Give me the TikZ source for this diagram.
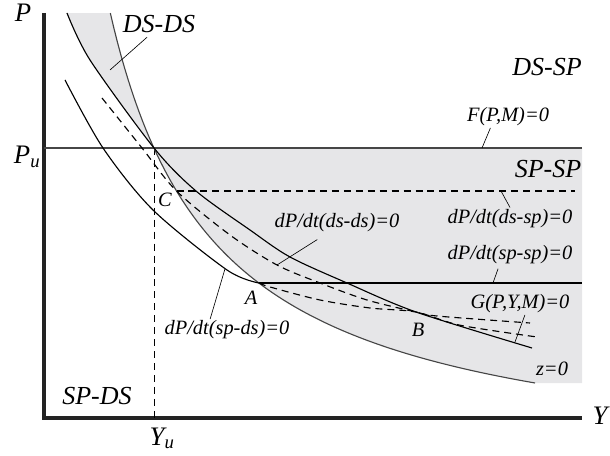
\documentclass[tikz,border=0pt]{standalone}
\usepackage{fontspec}
\setmainfont{Liberation Serif}
\begin{document}
\begin{tikzpicture}[
    eqlab/.style={font=\fontsize{14.5}{16}\selectfont\itshape, inner sep=1pt},
    regionlab/.style={font=\fontsize{18.5}{20}\selectfont\itshape, inner sep=1pt},
    axislab/.style={font=\fontsize{19}{21}\selectfont\itshape, inner sep=1pt},
    leader/.style={line width=0.45pt},
    curvel/.style={line width=0.8pt},
    dashcurve/.style={line width=0.8pt, dash pattern=on 5pt off 3.5pt}
]
    \definecolor{myshade}{RGB}{230,230,232}
    \definecolor{myaxis}{RGB}{35,35,35}
    \definecolor{myline}{RGB}{70,70,70}

    \useasboundingbox (-1.1,-0.925) rectangle (14.15,10.45);

    \pgfmathsetmacro{\Yu}{2.75}
    \pgfmathsetmacro{\Pu}{6.75}
    \pgfmathsetmacro{\Ymax}{13.45}
    \pgfmathsetmacro{\Ptop}{10.125}
    \def\zcurve{30.5/(\x+0.983)-1.425}
    \def\Gpath{plot[smooth] coordinates {(0.575,10.125) (1.15,8.95) (2.75,6.75)
        (3.8,5.675) (5.15,4.7) (6.15,4.025) (7.575,3.375) (9.3,2.65) (12.2,1.75)}}

    \coordinate (Q) at (\Yu,\Pu);
    \coordinate (A) at (5.375,3.375);
    \coordinate (B) at (9.3,2.65);
    \coordinate (C) at (3.313,5.675);

    \fill[myshade] (Q) -- (\Ymax,\Pu) -- (\Ymax,0.875) -- (12.275,0.875)
        -- plot[domain=12.275:\Yu, samples=60, variable=\x] ({\x},{\zcurve}) -- cycle;
    \begin{scope}
        \clip (0,\Pu) rectangle (\Ymax,\Ptop);
        \clip plot[domain=1.658:\Yu, samples=30, variable=\x] ({\x},{\zcurve})
            -- (0,\Pu) -- (0,\Ptop) -- cycle;
        \fill[myshade] \Gpath -- (\Ymax,1.75) -- (\Ymax,\Ptop) -- cycle;
    \end{scope}

    \draw[myaxis, line width=2.2pt] (0,\Ptop) -- (0,0) -- (\Ymax,0);
    \draw[myline, line width=1.1pt] (0,\Pu) -- (\Ymax,\Pu);
    \draw[dashcurve, line width=0.7pt] (Q) -- (\Yu,0);

    \draw[curvel, myline] plot[domain=1.658:12.275, samples=120, variable=\x] ({\x},{\zcurve});
    \draw[curvel] \Gpath;
    \draw[curvel] plot[smooth] coordinates {(0.525,8.45) (1.475,6.75) (2.725,5.2)
        (4.575,3.7) (A)};
    \draw[curvel] (A) -- (\Ymax,3.375);
    \draw[dashcurve] (C) -- (13.275,5.675);
    \draw[dashcurve] plot[smooth] coordinates {(1.45,8.0) (2.45,6.75) (C)
        (4.65,4.575) (5.825,3.825) (6.9,3.375) (8.075,2.95) (B) (9.825,2.55) (12.15,2.375)};
    \draw[dashcurve] plot[smooth] coordinates {(A) (5.65,3.275) (6.9,2.95)
        (8.15,2.75) (B) (10.4,2.32) (12.325,2.025)};

    \node[axislab] (plab) at (-0.525,10.14) {P};
    \node[axislab, anchor=base east] (pulab) at (-0.05,6.35) {P\textsubscript{u}};
    \node[axislab, anchor=base west] (yulab) at (2.6,-0.675) {Y\textsubscript{u}};
    \node[axislab] (ylab) at (13.9,0.05) {Y};

    \node[regionlab] (dsds) at (2.875,9.85) {DS-DS};
    \node[regionlab] (dssp) at (12.575,8.775) {DS-SP};
    \node[regionlab] (spsp) at (12.6,6.225) {SP-SP};
    \node[regionlab] (spds) at (1.325,0.55) {SP-DS};

    \node[eqlab] (flab) at (11.6,7.525) {F(P,M)=0};
    \node[eqlab] (dssplab) at (11.65,4.99) {dP/dt(ds-sp)=0};
    \node[eqlab] (dsdslab) at (7.325,4.875) {dP/dt(ds-ds)=0};
    \node[eqlab] (spsplab) at (11.65,4.075) {dP/dt(sp-sp)=0};
    \node[eqlab] (glab) at (11.9,2.85) {G(P,Y,M)=0};
    \node[eqlab] (zlab) at (12.7,1.225) {z=0};
    \node[eqlab] (spdslab) at (4.575,2.2) {dP/dt(sp-ds)=0};
    \node[eqlab] (alab) at (5.175,3.0) {A};
    \node[eqlab] (blab) at (9.35,2.2) {B};
    \node[eqlab] (clab) at (3.025,5.45) {C};

    \coordinate (inDSDS) at (1.65,8.7);
    \coordinate (onF) at (10.95,6.75);
    \coordinate (onDSSP) at (11.425,5.675);
    \coordinate (onDSDS) at (5.825,3.825);
    \coordinate (onSPSP) at (11.225,3.375);
    \coordinate (onG) at (11.775,1.9);
    \coordinate (onSPDS) at (4.525,3.73);
    \draw[leader] ([xshift=-8.5pt,yshift=-2pt]dsds.south) -- (inDSDS);
    \draw[leader] ([xshift=-12.5pt]flab.south) -- (onF);
    \draw[leader] (dssplab.north) -- (onDSSP);
    \draw[leader] ([xshift=-14pt,yshift=-4pt]dsdslab.south) -- (onDSDS);
    \draw[leader] ([xshift=-8.5pt,yshift=-2pt]spsplab.south) -- (onSPSP);
    \draw[leader] ([xshift=3.5pt]glab.south) -- (onG);
    \draw[leader] ([xshift=-12pt]spdslab.north) -- (onSPDS);
\end{tikzpicture}
\end{document}
